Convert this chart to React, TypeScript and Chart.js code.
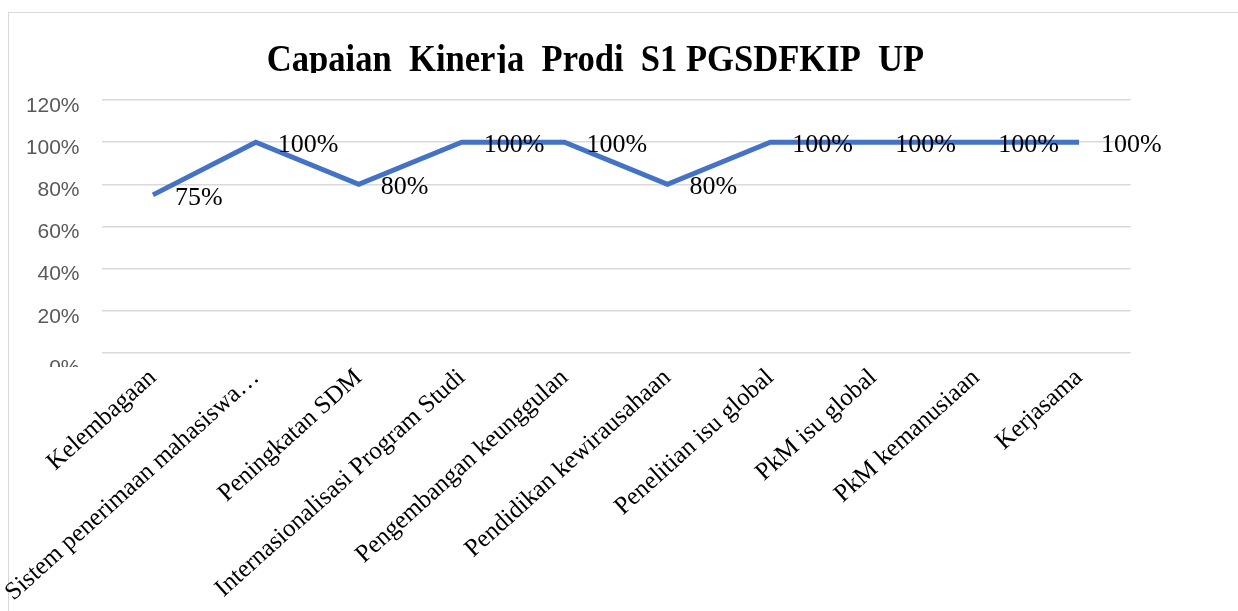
import React, { useEffect, useRef } from "react";
import { Chart, registerables } from "chart.js";

Chart.register(...registerables);

const categories = [
  "Kelembagaan",
  "Sistem penerimaan mahasiswa…",
  "Peningkatan SDM",
  "Internasionalisasi Program Studi",
  "Pengembangan keunggulan",
  "Pendidikan kewirausahaan",
  "Penelitian isu global",
  "PkM isu global",
  "PkM kemanusiaan",
  "Kerjasama",
];

const capaian = [0.75, 1, 0.8, 1, 1, 0.8, 1, 1, 1, 1];

const titleText = "Capaian  Kinerja  Prodi  S1 PGSDFKIP  UP";

const yMin = 0;
const yMax = 1.2;
const yStep = 0.2;

const pct = (v: number) => `${Math.round(v * 100)}%`;

const SERIF = "'Liberation Serif', 'Times New Roman', serif";
const SANS = "'Liberation Sans', Arial, sans-serif";

const titlePlugin = {
  id: "customTitle",
  afterDraw(chart: any) {
    const { ctx } = chart;
    const cx = 595.5;
    const baseline = 57;
    ctx.save();
    ctx.beginPath();
    ctx.rect(0, 0, chart.width, baseline + 2);
    ctx.clip();
    ctx.translate(cx, baseline);
    ctx.scale(1, 1.09);
    ctx.font = `bold 34.6px ${SERIF}`;
    ctx.fillStyle = "#000000";
    ctx.textAlign = "center";
    ctx.textBaseline = "alphabetic";
    ctx.fillText(titleText, 0, 0);
    ctx.restore();
  },
};

const dataLabelPlugin = {
  id: "dataLabels",
  afterDatasetsDraw(chart: any) {
    const { ctx } = chart;
    const meta = chart.getDatasetMeta(0);
    ctx.save();
    ctx.font = `26px ${SERIF}`;
    ctx.fillStyle = "#000000";
    ctx.textAlign = "left";
    ctx.textBaseline = "middle";
    meta.data.forEach((pt: any, i: number) => {
      ctx.fillText(pct(capaian[i]), pt.x + 22, pt.y + 3);
    });
    ctx.restore();
  },
};

const zeroTickPlugin = {
  id: "zeroTick",
  afterDraw(chart: any) {
    const { ctx, chartArea } = chart;
    const yScale = chart.scales.y;
    const y0 = yScale.getPixelForValue(0);
    ctx.save();
    ctx.beginPath();
    ctx.rect(0, 0, chartArea.left, y0 + 14);
    ctx.clip();
    ctx.font = `21px ${SANS}`;
    ctx.fillStyle = "#595959";
    ctx.textAlign = "right";
    ctx.textBaseline = "middle";
    ctx.fillText("0%", chartArea.left - 22, y0 + 15);
    ctx.restore();
  },
};

export default function App() {
  const canvasRef = useRef<HTMLCanvasElement | null>(null);

  useEffect(() => {
    if (!canvasRef.current) return;
    const chart = new Chart(canvasRef.current, {
      type: "line",
      data: {
        labels: categories,
        datasets: [
          {
            label: "Capaian",
            data: capaian,
            borderColor: "#4472C4",
            backgroundColor: "#4472C4",
            borderWidth: 5,
            pointRadius: 0,
            tension: 0,
            fill: false,
          },
        ],
      },
      options: {
        animation: false,
        responsive: true,
        maintainAspectRatio: false,
        layout: { padding: { left: 27.5, right: 107.5, top: 86, bottom: 6 } },
        plugins: {
          legend: { display: false },
          tooltip: { enabled: false },
          title: { display: false },
        },
        scales: {
          x: {
            offset: true,
            grid: { display: false, drawTicks: false },
            border: { display: false },
            afterFit: (scale: any) => {
              scale.paddingLeft = 0;
              scale.paddingRight = 0;
            },
            ticks: {
              autoSkip: false,
              minRotation: 42,
              maxRotation: 42,
              padding: 10,
              color: "#000000",
              font: { family: SERIF, size: 25 },
            },
          },
          y: {
            min: yMin,
            max: yMax,
            grid: { color: "#D9D9D9", lineWidth: 1.5, drawTicks: false },
            border: { display: false },
            afterFit: (scale: any) => {
              scale.width = 74;
            },
            ticks: {
              stepSize: yStep,
              padding: 22,
              labelOffset: 6,
              color: "#595959",
              font: { family: SANS, size: 21 },
              callback: (v: any) => (Number(v) === 0 ? "" : pct(Number(v))),
            },
          },
        },
      },
      plugins: [dataLabelPlugin, zeroTickPlugin, titlePlugin],
    });
    return () => chart.destroy();
  }, []);

  return (
    <>
      <div
        style={{
          position: "fixed",
          left: 8,
          top: 12,
          width: 1240,
          height: 610,
          borderLeft: "1.5px solid #D9D9D9",
          borderTop: "1.5px solid #D9D9D9",
          background: "#ffffff",
        }}
      />
      <div style={{ position: "fixed", left: 0, top: 13.5, width: 1238, height: 598 }}>
        <canvas ref={canvasRef} />
      </div>
    </>
  );
}
